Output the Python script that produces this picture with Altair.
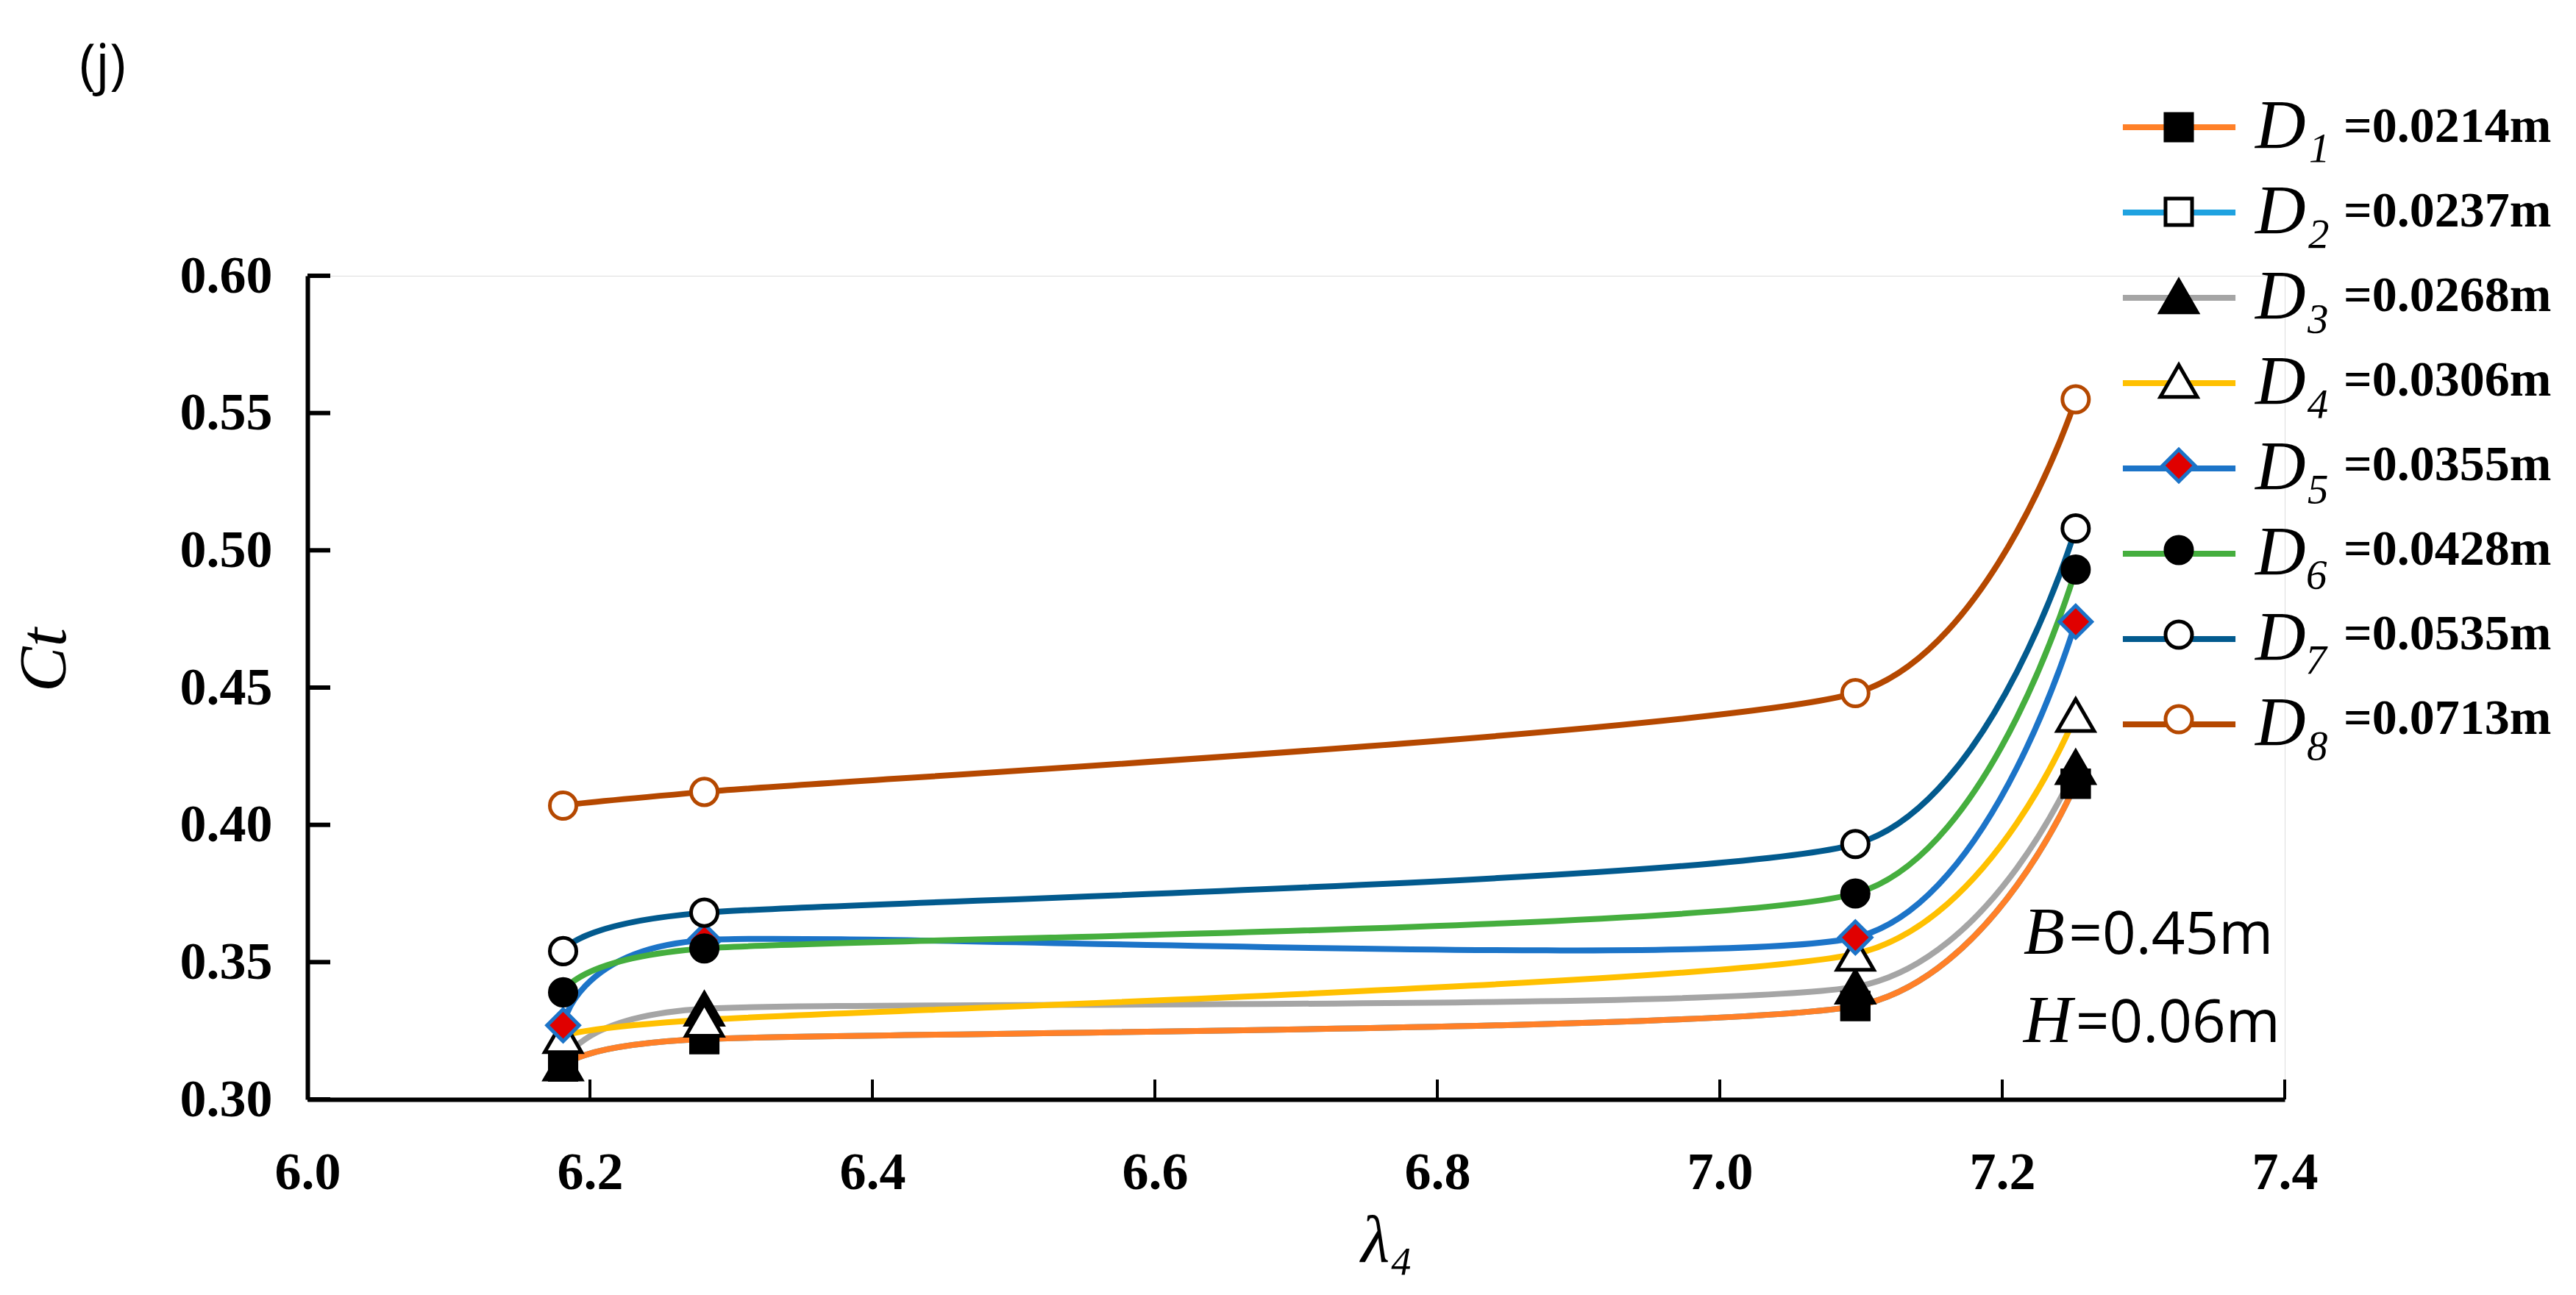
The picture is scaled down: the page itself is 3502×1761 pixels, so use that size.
import altair as alt
import pandas as pd

# ---------------- data ----------------
lam = [6.181, 6.281, 7.096, 7.252]

d_names = ["D₁", "D₂", "D₃", "D₄", "D₅", "D₆", "D₇", "D₈"]
d_values = ["=0.0214m", "=0.0237m", "=0.0268m", "=0.0306m",
            "=0.0355m", "=0.0428m", "=0.0535m", "=0.0713m"]

ct_d1 = [0.312, 0.322, 0.334, 0.415]
ct_d2 = [0.312, 0.322, 0.334, 0.415]   # hidden underneath D1 in the figure
ct_d3 = [0.313, 0.333, 0.341, 0.421]
ct_d4 = [0.323, 0.329, 0.353, 0.440]
ct_d5 = [0.327, 0.358, 0.359, 0.474]
ct_d6 = [0.339, 0.355, 0.375, 0.493]
ct_d7 = [0.354, 0.368, 0.393, 0.508]
ct_d8 = [0.407, 0.412, 0.448, 0.555]

x_ticks = [6.0, 6.2, 6.4, 6.6, 6.8, 7.0, 7.2, 7.4]
y_ticks = [0.30, 0.35, 0.40, 0.45, 0.50, 0.55, 0.60]

ann_letters = ["B", "H"]
ann_values = ["=0.45m", "=0.06m"]
ann_lam = [7.215, 7.215]
ann_val_lam = [7.247, 7.252]
ann_ct = [0.353, 0.321]

# ---------------- styles ----------------
line_colors = ["#FF8028", "#1FA2E0", "#A5A5A5", "#FFC000",
               "#1C74C8", "#45AE3E", "#025A8E", "#B54800"]
marker_shapes = ["square", "square", "triangle-up", "triangle-up",
                 "diamond", "circle", "circle", "circle"]
marker_fills = ["black", "white", "black", "white",
                "#E00000", "black", "white", "white"]
marker_strokes = ["black", "black", "black", "black",
                  "#1C74C8", "black", "black", "#B54800"]
marker_sizes = [1300, 1300, 2500, 2500, 1900, 1300, 1300, 1300]

series_ct = [ct_d1, ct_d2, ct_d3, ct_d4, ct_d5, ct_d6, ct_d7, ct_d8]
draw_order = [1, 2, 0, 3, 4, 5, 6, 7]

rows = []
for i in draw_order:
    for xv, yv in zip(lam, series_ct[i]):
        rows.append({"lam": xv, "ct": yv, "dname": d_names[i], "dval": d_values[i]})
df = pd.DataFrame(rows)

ydf = pd.DataFrame({"t": y_ticks})
xdf = pd.DataFrame({"t": x_ticks})
adf = pd.DataFrame({"letter": ann_letters, "val": ann_values,
                    "lam": ann_lam, "vlam": ann_val_lam, "ct": ann_ct})

SERIF = "Liberation Serif, DejaVu Serif"

xscale = alt.Scale(domain=[6.0, 7.4], nice=False, zero=False)
yscale = alt.Scale(domain=[0.30, 0.60], nice=False, zero=False)

x_axis = alt.Axis(values=x_ticks, format=".1f", grid=False, ticks=False, tickSize=0,
                  domainColor="black", domainWidth=6,
                  labelFont=SERIF, labelFontWeight="bold", labelFontSize=72,
                  labelColor="black", labelPadding=64, labelFlush=False,
                  title="λ₄", titleFont=SERIF, titleFontStyle="italic",
                  titleFontWeight="normal", titleFontSize=90, titleColor="black",
                  titleX=1467, titleY=220, titleBaseline="alphabetic", titleAlign="center")
y_axis = alt.Axis(values=y_ticks, format=".2f", grid=False, ticks=False, tickSize=0,
                  domainColor="black", domainWidth=6,
                  labelFont=SERIF, labelFontWeight="bold", labelFontSize=72,
                  labelColor="black", labelPadding=48, labelFlush=False,
                  title="Ct", titleFont=SERIF, titleFontStyle="italic",
                  titleFontWeight="normal", titleFontSize=92, titleColor="black",
                  titleAngle=270, titleX=-358, titleY=522,
                  titleBaseline="middle", titleAlign="center")

# line-sample legend: a custom path that is longer than the symbol box
line_legend = alt.Legend(orient="none", legendX=2497, legendY=-249.5, title=None,
                         padding=0, symbolType="M-1.76,0H1.76", symbolSize=7569,
                         symbolStrokeWidth=8, labelFont=SERIF, labelFontStyle="italic",
                         labelFontSize=95, labelColor="black", labelOffset=56,
                         labelLimit=400, rowPadding=20)

mk = dict(orient="none", legendX=2510, legendY=-236, title=None, padding=0,
          symbolStrokeWidth=5, labelFont=SERIF, labelFontWeight="bold",
          labelFontSize=68, labelColor="black", labelOffset=190, labelLimit=600,
          rowPadding=47)

base = alt.Chart(df)

lines = base.mark_line(interpolate="cardinal", tension=0.4, strokeWidth=8).encode(
    x=alt.X("lam:Q", scale=xscale, axis=x_axis),
    y=alt.Y("ct:Q", scale=yscale, axis=y_axis),
    color=alt.Color("dname:N", scale=alt.Scale(domain=d_names, range=line_colors),
                    legend=line_legend),
)

points = base.mark_point(strokeWidth=5, opacity=1, fillOpacity=1, strokeOpacity=1).encode(
    x=alt.X("lam:Q", scale=xscale),
    y=alt.Y("ct:Q", scale=yscale),
    shape=alt.Shape("dval:N", scale=alt.Scale(domain=d_values, range=marker_shapes),
                    legend=alt.Legend(**mk)),
    fill=alt.Fill("dval:N", scale=alt.Scale(domain=d_values, range=marker_fills),
                  legend=alt.Legend(**mk)),
    stroke=alt.Stroke("dval:N", scale=alt.Scale(domain=d_values, range=marker_strokes),
                      legend=alt.Legend(**mk)),
    size=alt.Size("dval:N", scale=alt.Scale(type="ordinal", domain=d_values,
                                            range=marker_sizes),
                  legend=alt.Legend(**mk)),
)

yticks = alt.Chart(ydf).mark_tick(orient="horizontal", size=31, thickness=6,
                                   color="black", xOffset=15.5, opacity=1).encode(
    x=alt.datum(6.0), y=alt.Y("t:Q", scale=yscale))
xticks = alt.Chart(xdf).mark_tick(orient="vertical", size=27, thickness=4,
                                   color="black", yOffset=-13.5, opacity=1).encode(
    x=alt.X("t:Q", scale=xscale), y=alt.datum(0.30))

letters = alt.Chart(adf).mark_text(align="left", baseline="alphabetic", font=SERIF,
                                   fontStyle="italic", fontSize=92, color="black").encode(
    x=alt.X("lam:Q", scale=xscale), y=alt.Y("ct:Q", scale=yscale), text="letter:N")
values = alt.Chart(adf).mark_text(align="left", baseline="alphabetic", font="Open Sans",
                                  fontSize=80, color="black").encode(
    x=alt.X("vlam:Q", scale=xscale), y=alt.Y("ct:Q", scale=yscale), text="val:N")

chart = alt.layer(lines, points, yticks, xticks, letters, values).properties(
    width=2688, height=1120,
    title=alt.TitleParams("(j)", anchor="start", frame="group", dx=-310, dy=62,
                          font="Open Sans", fontSize=75, fontWeight="normal",
                          color="black", offset=0, baseline="alphabetic"),
    autosize=alt.AutoSizeParams(type="none"),
    padding={"left": 410, "top": 367, "right": 388, "bottom": 250},
).configure_view(stroke=None).configure(background="white")

chart.save("out.html", embed_options={"renderer": "svg", "actions": False})
